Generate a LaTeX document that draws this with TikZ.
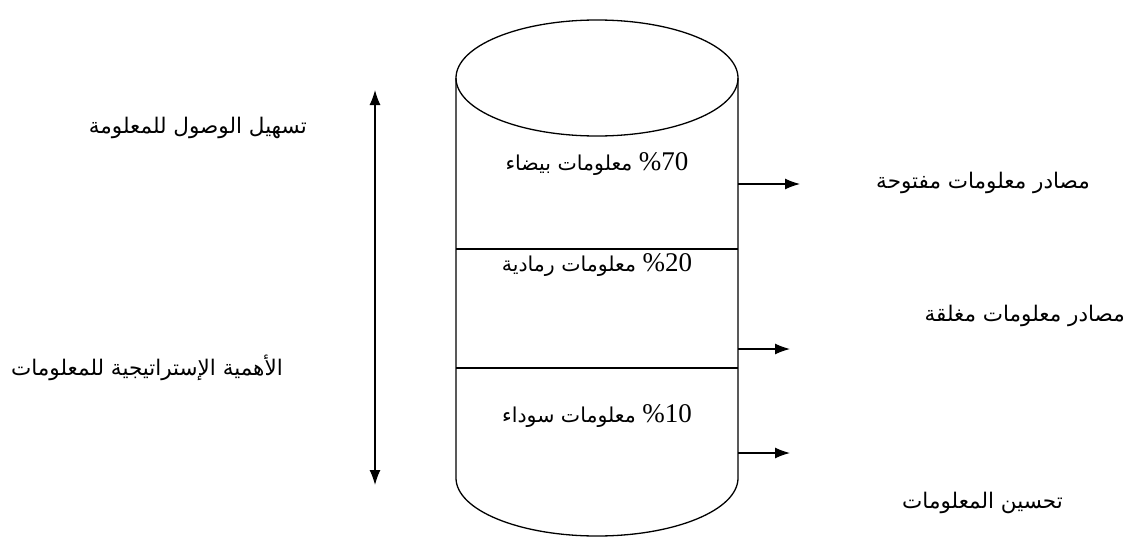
\documentclass[tikz,border=0pt]{standalone}
\usepackage{fontspec}
\usetikzlibrary{arrows.meta}
\setmainfont{Liberation Serif}
\newfontfamily\arabicfont[Script=Arabic]{DejaVu Sans}
\TeXXeTstate=1
\tikzset{
  edge/.style={line width=1.3pt, draw=black},
  arr/.style={edge, -{Latex[length=15pt,width=11pt]}},
  dblarr/.style={edge, {Latex[length=15pt,width=11pt]}-{Latex[length=15pt,width=11pt]}},
  lbl/.style={inner sep=0pt, font=\arabicfont\fontsize{21.5}{24}\selectfont},
  pct/.style={inner sep=0pt, font=\arabicfont\fontsize{20.5}{24}\selectfont},
}
\newcommand{\num}[1]{\beginL{\rmfamily\fontsize{27}{28}\selectfont\%#1}\endL}
\begin{document}
\begin{tikzpicture}[x=1pt,y=-1pt]
  \fill[white] (0,0) rectangle (1135,538);
  \useasboundingbox (0,0) rectangle (1135,538);

  % cylinder
  \draw[edge] (597,78) ellipse [x radius=141, y radius=58];
  \draw[edge] (456,78) -- (456,478) arc[start angle=180, end angle=360, x radius=141, y radius=-58] -- (738,78);
  \draw[edge] (456,249) -- (738,249);
  \draw[edge] (456,368) -- (738,368);

  % layer labels
  \node[pct] (white) at (597,164) {\beginR\num{70} معلومات بيضاء\endR};
  \node[pct] (grey)  at (597,265) {\beginR\num{20} معلومات رمادية\endR};
  \node[pct] (black) at (597,416) {\beginR\num{10} معلومات سوداء\endR};

  % outgoing arrows
  \coordinate (s1) at (738,184);
  \coordinate (e1) at (800,184);
  \coordinate (s2) at (738,349);
  \coordinate (e2) at (790,349);
  \coordinate (s3) at (738,453);
  \coordinate (e3) at (790,453);
  \draw[arr] (s1) -- (e1);
  \draw[arr] (s2) -- (e2);
  \draw[arr] (s3) -- (e3);

  \node[lbl, anchor=east] (open)    at (1090,183) {\beginR مصادر معلومات مفتوحة\endR};
  \node[lbl, anchor=east] (closed)  at (1125,316) {\beginR مصادر معلومات مغلقة\endR};
  \node[lbl, anchor=east] (improve) at (1063,503) {\beginR تحسين المعلومات\endR};

  % vertical scale
  \coordinate (vt) at (375,90);
  \coordinate (vb) at (375,485);
  \draw[dblarr] (vb) -- (vt);

  \node[lbl, anchor=east] (access)    at (307,128) {\beginR تسهيل الوصول للمعلومة\endR};
  \node[lbl, anchor=east] (strategic) at (283,368) {\beginR الأهمية الإستراتيجية للمعلومات\endR};
\end{tikzpicture}
\end{document}
